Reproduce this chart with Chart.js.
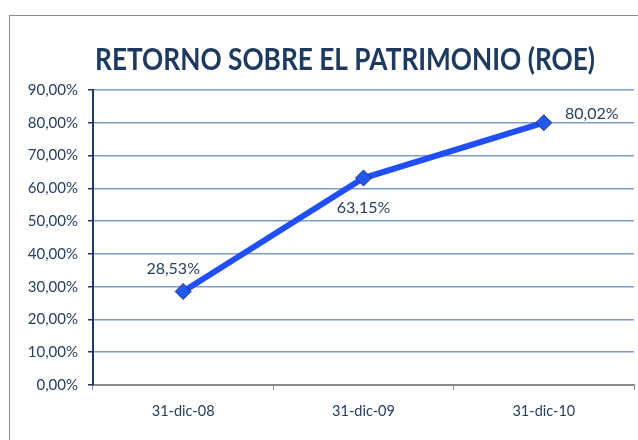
<!DOCTYPE html>
<html><head><meta charset="utf-8">
<script src="https://cdn.jsdelivr.net/npm/chart.js@4"></script>
<style>
html,body{margin:0;padding:0;background:#fff;overflow:hidden;}
#wrap{position:absolute;left:0;top:0;width:638px;height:440px;overflow:hidden;}
#frame{position:absolute;left:9px;top:15px;width:640px;height:440px;border-left:1px solid #8c8c8c;border-top:1px solid #8c8c8c;}
canvas{position:absolute;left:0;top:0;}
</style></head>
<body><div id="wrap"><div id="frame"></div><canvas id="c" width="643" height="440"></canvas></div>
<script>
const title = 'RETORNO SOBRE EL PATRIMONIO (ROE)';
const categories = ['31-dic-08', '31-dic-09', '31-dic-10'];
const roeValues = [28.53, 63.15, 80.02];
const yTicks = [0, 10, 20, 30, 40, 50, 60, 70, 80, 90];

const fmt = (v, d) => v.toFixed(d).replace('.', ',') + '%';
const navy = '#243f60';
const labelOffsets = [[-10, -23], [0, 30], [48, -9]];

const deco = {
  id: 'deco',
  afterDatasetsDraw(chart) {
    const ctx = chart.ctx;
    ctx.save();
    ctx.fillStyle = navy;
    ctx.font = '16px Lato';
    ctx.textAlign = 'center';
    ctx.textBaseline = 'middle';
    const meta = chart.getDatasetMeta(0);
    meta.data.forEach((p, i) => {
      const o = labelOffsets[i];
      ctx.fillText(fmt(roeValues[i], 2), p.x + o[0], p.y + o[1]);
    });
    ctx.font = 'bold 31px Lato';
    ctx.fillStyle = '#1f3a60';
    ctx.textBaseline = 'alphabetic';
    const w = ctx.measureText(title).width;
    ctx.translate(345, 70);
    ctx.scale(500 / w, 1);
    ctx.fillText(title, 0, 0);
    ctx.restore();
  }
};

new Chart(document.getElementById('c'), {
  type: 'line',
  data: {
    labels: categories,
    datasets: [{
      data: roeValues,
      borderColor: '#1f4ff5',
      borderWidth: 6,
      pointStyle: 'rectRot',
      pointRadius: 8,
      pointBackgroundColor: '#2258f0',
      pointBorderColor: '#1f3864',
      pointBorderWidth: 1,
      tension: 0
    }]
  },
  options: {
    responsive: false,
    animation: false,
    layout: { padding: { top: 90, right: 4, bottom: 0, left: 0 } },
    plugins: { legend: { display: false }, tooltip: { enabled: false } },
    scales: {
      x: {
        offset: true,
        afterFit: s => { s.height = 55; s.paddingLeft = 0; s.paddingRight = 0; },
        border: { color: '#8a8a8a', width: 2 },
        grid: { offset: true, drawOnChartArea: false, drawTicks: true, tickLength: 5, tickColor: '#8a8a8a', tickWidth: 1 },
        ticks: { color: navy, font: { family: 'Lato', size: 14.5 }, padding: 13, maxRotation: 0 }
      },
      y: {
        min: yTicks[0], max: yTicks[yTicks.length - 1],
        afterFit: s => { s.width = 93; s.paddingTop = 0; s.paddingBottom = 0; },
        afterBuildTicks: s => { s.ticks = yTicks.map(v => ({ value: v })); },
        border: { color: '#1f3864', width: 2 },
        grid: { color: '#7e9ccc', lineWidth: 1.5, tickLength: 5, tickColor: '#1f3864', tickWidth: 1.5 },
        ticks: { color: navy, font: { family: 'Lato', size: 15 }, padding: 10, callback: v => fmt(v, 2) }
      }
    }
  },
  plugins: [deco]
});
</script></body></html>
